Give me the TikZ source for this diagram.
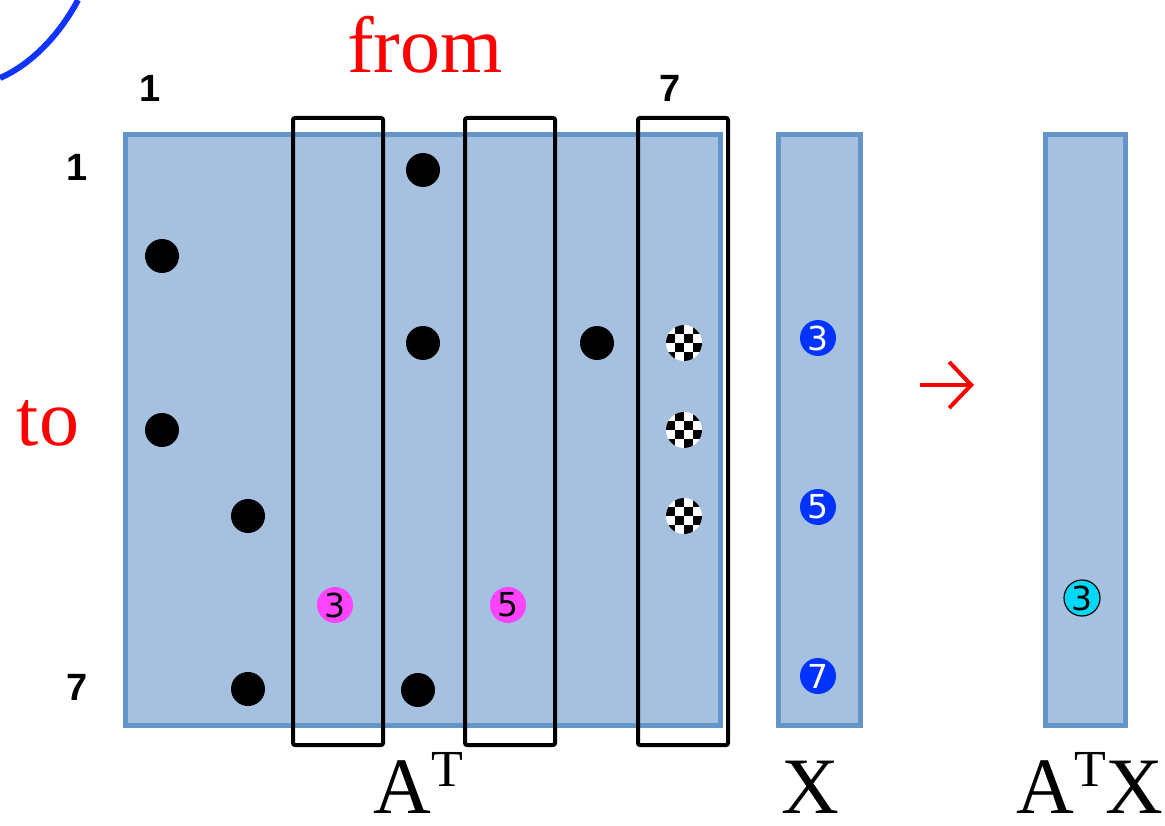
\documentclass[tikz,border=0pt]{standalone}
\usepackage{fontspec}
\setmainfont{Liberation Serif}
\newfontfamily\numfont{Liberation Sans}
\newfontfamily\dotfont{DejaVu Sans}
\usetikzlibrary{arrows.meta}
\definecolor{cellfill}{HTML}{A6C0DF}
\definecolor{cellline}{HTML}{6495C8}
\definecolor{magdot}{HTML}{FF44FF}
\definecolor{bluedot}{HTML}{0033FF}
\definecolor{cyandot}{HTML}{00D8F8}
\definecolor{arcblue}{HTML}{1133FF}
\newcommand{\supT}{\raisebox{27pt}{\fontsize{52}{52}\selectfont T}}
\tikzset{
  x=1pt, y=-1pt,
  matbox/.style={fill=cellfill, draw=cellline, line width=5pt},
  colbox/.style={draw=black, line width=4pt, rounded corners=2pt},
  idx/.style={font=\numfont\bfseries\fontsize{38}{38}\selectfont, inner sep=0pt},
  bigred/.style={text=red, font=\fontsize{80}{80}\selectfont, inner sep=0pt},
  biglbl/.style={font=\fontsize{80}{80}\selectfont, inner sep=0pt, anchor=base, text depth=0pt},
  entry/.style={circle, fill=black, minimum size=34pt, inner sep=0pt},
  numdot/.style={circle, minimum size=36pt, inner sep=0pt,
    font=\dotfont\fontsize{33}{33}\selectfont},
}
\begin{document}
\begin{tikzpicture}
\useasboundingbox (0,0) rectangle (1165,826);

% curved stroke in the corner
\draw[arcblue, line width=6pt] (0,78) .. controls (32,64) and (60,34) .. (78,0);

% matrix and vectors
\path[matbox] (125,135) rectangle (720,725);
\path[matbox] (778,135) rectangle (860,725);
\path[matbox] (1045,135) rectangle (1125,725);

% titles
\node[bigred] (from) at (425,45) {from};
\node[bigred] (to) at (48,423) {to};

% index labels
\node[idx] (c1) at (150,88) {1};
\node[idx] (c7) at (670,88) {7};
\node[idx] (r1) at (77,167) {1};
\node[idx] (r7) at (77,687) {7};

% nonzero entries
\node[entry] (e21) at (162,256) {};
\node[entry] (e41) at (162,430) {};
\node[entry] (e52) at (248,516) {};
\node[entry] (e72) at (248,689) {};
\node[entry] (e14) at (423,170) {};
\node[entry] (e34) at (423,343) {};
\node[entry] (e74) at (418,690) {};
\node[entry] (e36) at (597,343) {};

% checkered entries in column 7
\foreach \yy/\nm in {343/e37,430/e47,516/e57}{
  \node[circle, minimum size=36pt, inner sep=0pt] (\nm) at (684,\yy) {};
  \begin{scope}
    \clip (684,\yy) circle (18);
    \fill[white] (666,\yy-18) rectangle (702,\yy+18);
    \foreach \i in {0,...,3}{
      \foreach \j in {0,...,3}{
        \pgfmathtruncatemacro{\chk}{mod(\i+\j,2)}
        \ifnum\chk=1
          \fill[black] (666+9*\i,\yy-18+9*\j) rectangle ++(9,9);
        \fi
      }
    }
  \end{scope}
}

% highlighted entries
\node[numdot, fill=magdot] (m3) at (335,605) {3};
\node[numdot, fill=magdot] (m5) at (508,605) {5};

% selected columns
\draw[colbox] (293,118) rectangle (383,745);
\draw[colbox] (465,118) rectangle (555,745);
\draw[colbox] (638,118) rectangle (728,745);

% vector entries
\node[numdot, fill=bluedot, text=white] (x3) at (818,338) {3};
\node[numdot, fill=bluedot, text=white] (x5) at (818,507) {5};
\node[numdot, fill=bluedot, text=white] (x7) at (818,676) {7};
\node[numdot, fill=cyandot, draw=black, line width=1.2pt] (y3) at (1082,598) {3};

% arrow
\coordinate (a0) at (920,385);
\coordinate (a1) at (974,385);
\draw[red, line width=4pt, -{Straight Barb[length=22pt, width=46pt]}] (a0) -- (a1);

% labels below
\node[biglbl] (lA) at (418,813) {A\supT};
\node[biglbl] (lX) at (810,813) {X};
\node[biglbl] (lAX) at (1090,813) {A\supT X};
\end{tikzpicture}
\end{document}
